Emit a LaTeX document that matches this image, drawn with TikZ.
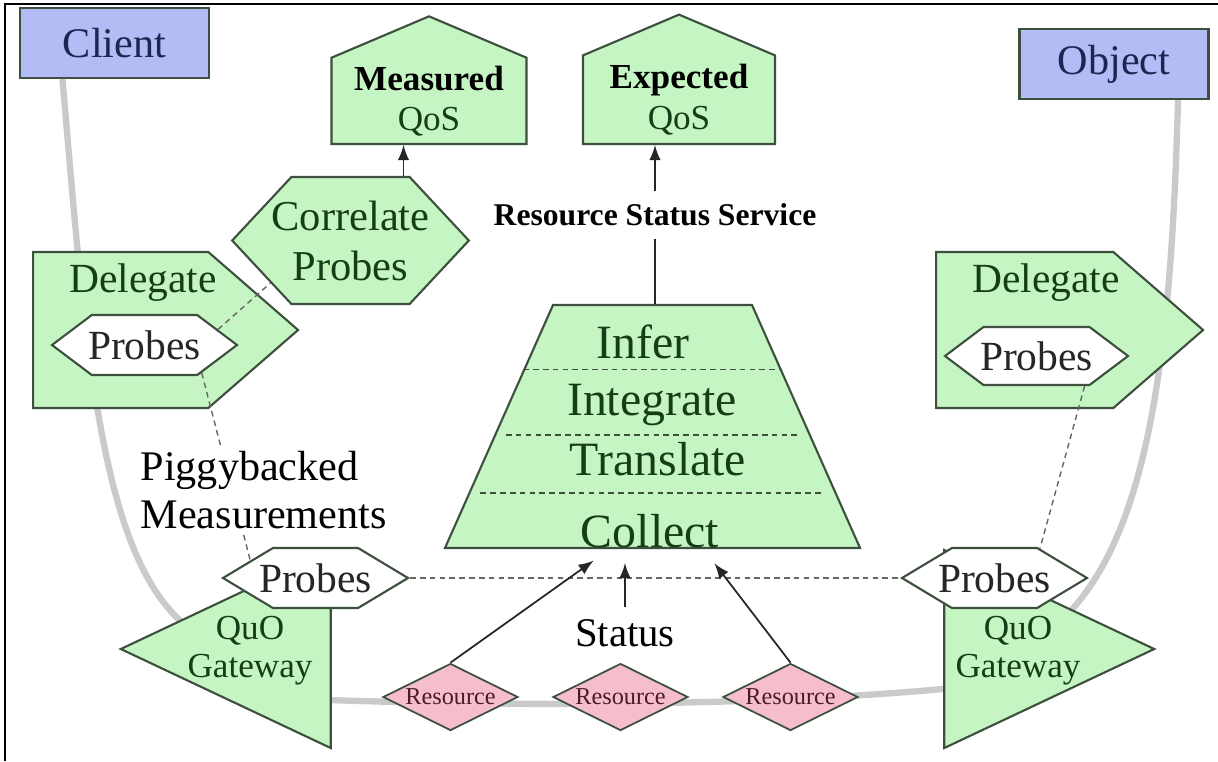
\documentclass[tikz,border=0pt]{standalone}
\usepackage{fontspec}
\setmainfont{Liberation Serif}
\usetikzlibrary{arrows,shapes,calc}
\definecolor{qosgreen}{HTML}{C6F5C4}
\definecolor{qosedge}{HTML}{3D4F3D}
\definecolor{qostext}{HTML}{163E16}
\definecolor{objblue}{HTML}{B3BCF4}
\definecolor{objtext}{HTML}{1D2550}
\definecolor{respink}{HTML}{F6BECC}
\definecolor{restext}{HTML}{4A1A2A}
\definecolor{wiregray}{HTML}{CACACA}
\tikzset{
  endpoint/.style={draw=qosedge, fill=objblue, text=objtext, line width=0.6pt,
    minimum width=18.9mm, minimum height=7mm, font=\fontsize{12}{14}\selectfont},
  qosbox/.style={signal, signal to=north, signal pointer angle=134, draw=qosedge, fill=qosgreen,
    line width=0.6pt, minimum width=19.5mm, minimum height=11.8mm, inner sep=0pt, align=center,
    font=\fontsize{10}{11.4}\selectfont},
  hexbox/.style={signal, signal to=east and west, draw=qosedge, line width=0.6pt, inner sep=0pt},
  probe/.style={hexbox, fill=white, text=black!85, minimum width=18.5mm, minimum height=6mm,
    signal pointer angle=62, inner xsep=-1.4mm, font=\fontsize{11.8}{14}\selectfont},
  delegate/.style={signal, signal to=east, signal pointer angle=82, draw=qosedge, fill=qosgreen,
    line width=0.6pt, minimum height=15.6mm, inner sep=1pt},
  gateway/.style={isosceles triangle, isosceles triangle stretches=true, draw=qosedge, fill=qosgreen,
    line width=0.6pt, minimum width=19.8mm, minimum height=21mm, inner sep=1pt},
  resource/.style={diamond, aspect=2, draw=qosedge, fill=respink, text=restext, line width=0.5pt,
    minimum width=13.5mm, minimum height=6.7mm, inner sep=0pt, font=\fontsize{6.9}{8}\selectfont},
  layerbox/.style={trapezium, trapezium left angle=61.5, trapezium right angle=61.5,
    trapezium stretches=true, draw=qosedge, fill=qosgreen, line width=0.6pt,
    minimum width=41.5mm, minimum height=24.3mm, inner sep=1pt},
  layertext/.style={text=qostext, font=\fontsize{13.6}{16}\selectfont, inner sep=0pt, anchor=base},
  greentext/.style={text=qostext, font=\fontsize{11.8}{14}\selectfont},
  gwtext/.style={text=qostext, align=center, font=\fontsize{10}{10.8}\selectfont},
  wire/.style={draw=wiregray, line width=1.8pt},
  arr/.style={-latex, line width=0.5pt, draw=black!85},
  probeline/.style={dash pattern=on 1.6pt off 1.2pt, line width=0.4pt, draw=black!60},
  layerline/.style={dash pattern=on 1.6pt off 1.2pt, line width=0.5pt, draw=qosedge},
}
\begin{document}
\begin{tikzpicture}[x=0.1mm, y=-0.1mm]
  \useasboundingbox (0,0) rectangle (1218,761);
  \draw[line width=0.8pt] (5,761) -- (5,4) -- (1218,4); % frame
  % client and object
  \node[endpoint] (client) at (114.5,43) {Client};
  \node[endpoint] (object) at (1114,64) {Object};
  % text of the gateways, used as wire ends
  \node[gwtext] (gwLtxt) at (250,651) {\phantom{QuO}\\\phantom{Gateway}};
  \node[gwtext] (gwRtxt) at (1018,651) {\phantom{QuO}\\\phantom{Gateway}};
  % gray wires
  \draw[wire] ([xshift=-5.2mm]client.south) .. controls (90,400) and (105,640) .. (gwLtxt.center); % client side
  \draw[wire] ([xshift=6.4mm]object.south) .. controls (1170,400) and (1140,590) .. (gwRtxt.center); % object side
  \draw[wire] ([yshift=-4.6mm]gwLtxt.center) .. controls (500,708) and (800,708) .. ([yshift=-3mm]gwRtxt.center); % network
  % gateways
  \node[gateway, shape border rotate=180, anchor=apex] (gwL) at (118,649) {};
  \node[gateway, anchor=apex] (gwR) at (1157,649) {};
  \node[gwtext] at (gwLtxt) {QuO\\Gateway};
  \node[gwtext] at (gwRtxt) {QuO\\Gateway};
  % QoS boxes
  \node[qosbox, anchor=south] (meas) at (429,145) {\textbf{Measured}\\\textcolor{qostext}{QoS}};
  \node[qosbox, anchor=south, minimum width=19.2mm] (expt) at (679,145) {\textbf{Expected}\\\textcolor{qostext}{QoS}};
  % correlate
  \node[hexbox, fill=qosgreen, text=qostext, minimum width=23.5mm, minimum height=12.7mm, inner xsep=-2mm,
    signal pointer angle=94, align=center, font=\fontsize{12.1}{14.2}\selectfont] (corr) at (350.5,240.5) {Correlate\\Probes};
  % delegates
  \node[delegate, anchor=west, minimum width=26.5mm] (dlgL) at (32,330) {};
  \node[delegate, anchor=west, minimum width=26.7mm] (dlgR) at (935,330) {};
  \node[greentext] (dlgLtxt) at (143,283) {Delegate};
  \node[greentext] (dlgRtxt) at (1046,283) {Delegate};
  \node[probe, signal pointer angle=74, inner xsep=-0.5mm] (prbDL) at (144.5,345) {Probes};
  \node[probe, signal pointer angle=74, inner xsep=-0.5mm, minimum width=18.3mm, minimum height=5.8mm] (prbDR) at (1036.5,356) {Probes};
  % probes on the gateways
  \node[probe] (prbL) at (315.5,578) {Probes};
  \node[probe] (prbR) at (994.5,578) {Probes};
  % resource status service
  \node[layerbox] (layers) at (652.5,426.5) {};
  \draw[layerline] ($(layers.bottom left corner)!0.733!(layers.top left corner)$) -- ($(layers.bottom right corner)!0.733!(layers.top right corner)$);
  \draw[layerline, shorten <=1.2mm, shorten >=1.2mm] ($(layers.bottom left corner)!0.465!(layers.top left corner)$) -- ($(layers.bottom right corner)!0.465!(layers.top right corner)$);
  \draw[layerline, shorten <=1.2mm, shorten >=1.2mm] ($(layers.bottom left corner)!0.230!(layers.top left corner)$) -- ($(layers.bottom right corner)!0.230!(layers.top right corner)$);
  \node[layertext] (infer) at (643,358) {Infer};
  \node[layertext] (integ) at (652,415) {Integrate};
  \node[layertext] (transl) at (658,475) {Translate};
  \node[layertext] (collect) at (650,547) {Collect};
  \node[font=\fontsize{9}{11}\selectfont\bfseries] (rssl) at (655,215) {Resource Status Service};
  % resources
  \node[resource] (res1) at (450.5,697) {Resource};
  \node[resource] (res2) at (620.5,697) {Resource};
  \node[resource] (res3) at (790.5,697) {Resource};
  \node[font=\fontsize{11.6}{14}\selectfont] (status) at (625,633) {Status};
  % measurement paths
  \draw[probeline] (prbL.east) -- (prbR.west);
  \draw[probeline] (prbDL.12) -- (corr.208);
  \draw[probeline] (prbDL.-26) -- (prbL.165);
  \draw[probeline] (prbDR.-32) -- (prbR.33);
  \node[font=\fontsize{12}{13.7}\selectfont, align=left, fill=white, inner sep=0.5mm, anchor=west] (piggy) at (135,490) {Piggybacked\\Measurements};
  % arrows
  \draw[arr] ([xshift=5.3mm]corr.north) -- ([xshift=5.3mm]corr.north |- meas.south);
  \draw[arr] (rssl.north) -- (rssl.north |- expt.south);
  \draw[line width=0.5pt, draw=black!85] (rssl.south) -- (rssl.south |- layers.north);
  \draw[arr, shorten >=2mm] (res1.north) -- ($(layers.bottom left corner)!0.398!(layers.bottom right corner)$);
  \draw[arr, shorten >=1.4mm] (status.north) -- (status.north |- layers.south);
  \draw[arr, shorten >=1.8mm] (res3.north) -- ($(layers.bottom left corner)!0.622!(layers.bottom right corner)$);
\end{tikzpicture}
\end{document}
